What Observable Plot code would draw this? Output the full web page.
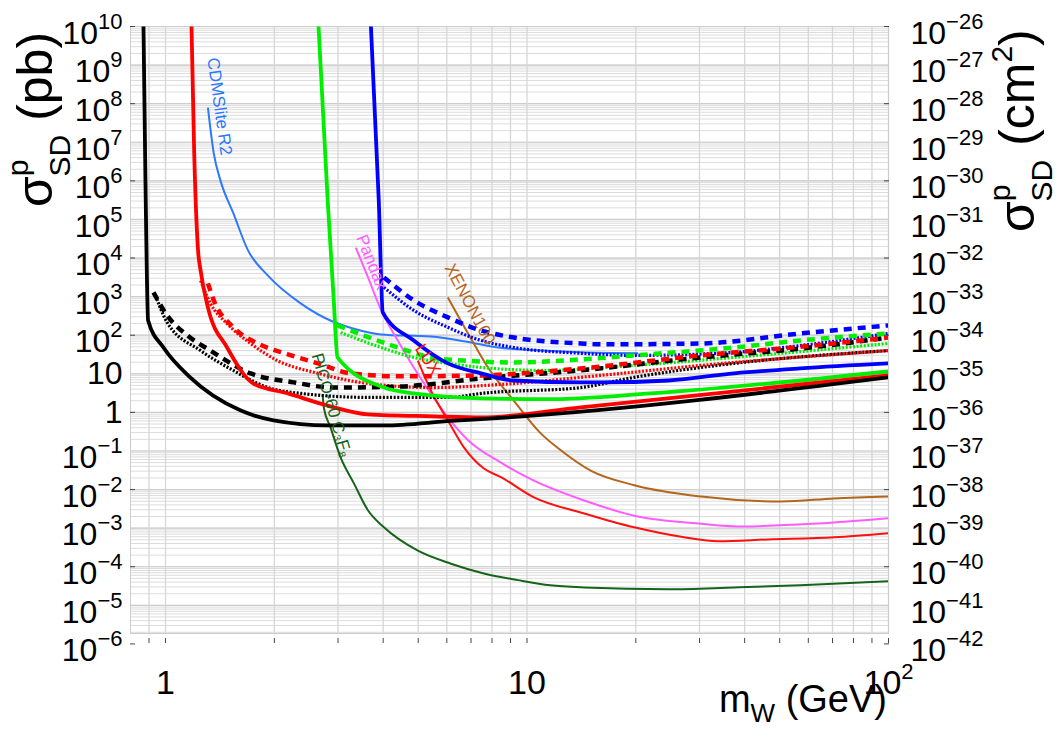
<!DOCTYPE html>
<html><head><meta charset="utf-8">
<script src="https://cdn.jsdelivr.net/npm/d3@7"></script>
<script src="https://cdn.jsdelivr.net/npm/@observablehq/plot@0.6"></script>
<style>
body{margin:0;background:#fff;}
svg{font-family:"Liberation Sans",Arial,Helvetica,sans-serif;}
</style>
</head><body><div id="chart"></div>
<script>
// ---- data: [mass GeV, sigma pb] ----
const blackSolid = [[0.869,1e10],[0.88,1e6],[0.895,240],[0.987,48],[1.17,8.1],[1.61,1.13],[1.99,0.62],[2.81,0.46],[4.02,0.46],[6.16,0.6],[8.47,0.72],[100,8.1]];
const redSolid = [[1.18,1e10],[1.2,6e6],[1.23,1.6e4],[1.25,4.8e3],[1.31,525],[1.48,48],[1.75,5.6],[2.18,3.1],[2.81,1.5],[3.63,0.89],[5.52,0.79],[7.46,0.74],[14.1,1.35],[100,9.1]];
const greenSolid = [[2.65,1e10],[2.81,3e5],[2.92,800],[2.99,26.6],[4.02,4.4],[4.86,3.1],[7.46,2.3],[11.4,2.2],[22,3.1],[100,11.5]];
const blueSolid = [[3.7,1e10],[3.89,3e5],[3.99,390],[4.86,73],[6.04,18.6],[7.46,10.3],[9.2,6.7],[14.1,6.0],[16,6.0],[24.6,6.7],[37.4,10.3],[57,13.8],[100,18.6]];
const blackDashed = [[0.926,1290],[1.01,326],[1.15,98],[1.33,40],[1.72,10.2],[2.26,6.0],[2.92,4.4],[4.48,4.7],[7.46,7.6],[14.1,12.3],[30.3,26.6],[57,45],[100,87]];
const blackDotted = [[0.938,1070],[1.01,215],[1.25,40],[1.54,12.2],[1.92,4.4],[2.37,3.1],[3.63,2.45],[6.16,2.45],[7.46,3.1],[14.1,4.4],[19.8,8.1],[37.4,18.6],[100,40]];
const redDashed = [[1.31,2200],[1.36,800],[1.54,160],[1.8,61],[2.18,32],[2.64,18.6],[3.25,10.3],[4.48,8.6],[7.46,9.1],[14.1,13.8],[30.3,30],[57,50],[100,87]];
const redDotted = [[1.25,2600],[1.33,670],[1.48,200],[1.72,61],[2.04,22],[2.64,10.3],[3.63,5.6],[5.52,4.4],[8.47,5.3],[16,9.1],[30.3,16.5],[100,40]];
const greenDashed = [[2.99,180],[3.54,98],[4.39,48],[5.42,26.6],[6.69,22],[9.2,19.7],[14.1,23.6],[19.8,30],[37.4,48],[57,73],[100,111]];
const greenDotted = [[3.05,118],[3.95,48],[4.86,26.6],[6.04,18.6],[7.46,14.6],[11.4,12.2],[19.8,16.5],[37.4,26.6],[100,61]];
const blueDashed = [[4.02,3150],[4.86,800],[6.04,290],[7.46,133],[9.2,87],[14.1,61],[16,58],[30.3,61],[57,111],[100,180]];
const blueDotted = [[4.02,1740],[4.86,440],[6.04,160],[7.46,73],[9.2,48],[14.1,34],[19.8,30],[37.4,36],[57,54],[100,111]];
const cdmslite = [[1.31,7.9e7],[1.36,5.1e6],[1.42,1.0e6],[1.54,1.45e5],[1.69,1.6e4],[1.92,3.5e3],[2.37,660],[2.92,220],[3.3,150],[3.95,105],[5.42,92],[6.69,70],[8.32,48],[11,40],[14.1,36],[20.3,34]];
const pandax = [[3.36,1.86e4],[3.63,3.2e3],[3.95,440],[4.39,73],[4.86,14.6],[5.42,3.1],[6.04,0.74],[6.87,0.19],[8.47,0.05],[10.45,0.017],[14.4,0.0052],[19.8,0.0021],[30.3,0.0013],[39.9,0.0011],[51.5,0.0012],[70.8,0.0014],[100,0.0018]];
const lux = [[4.99,22],[5.42,3.7],[6.04,0.62],[6.69,0.124],[7.6,0.035],[8.47,0.021],[10.45,0.0063],[14.4,0.0024],[19.8,0.00105],[27.2,5.8e-4],[33.8,4.6e-4],[46.5,5.1e-4],[70.8,5.8e-4],[100,7.4e-4]];
const xenon100 = [[6.04,955],[6.87,111],[7.8,14.6],[9.2,2.0],[10.9,0.29],[12.4,0.104],[15.0,0.031],[19.8,0.013],[30.3,0.0066],[50.6,0.0049],[70.8,0.0059],[100,0.0066]];
const pico60 = [[2.72,3],[2.74,1.35],[2.86,0.41],[3.05,0.068],[3.32,0.0145],[3.63,0.0029],[4.02,0.00105],[4.99,2.6e-4],[6.16,1.2e-4],[7.6,6.7e-5],[9.44,4.5e-5],[11.6,3.3e-5],[14.4,2.9e-5],[24.6,2.6e-5],[37.4,2.9e-5],[57,3.3e-5],[100,4.2e-5]];

// curve annotations
const labelNames = ["CDMSlite R2","Pandax","XENON100","LUX","PICO-60 C\u2083F\u2088"];
const labelMass = [1.41, 3.72, 6.95, 5.32, 2.88];
const labelSigma = [8.5e7, 7.8e3, 640, 23.4, 1.52];

// ticks
const xTickValues = [0.9,1,2,3,4,5,6,7,8,9,10,20,30,40,50,60,70,80,90,100];
const xMajorTicks = [1,10,100];
const xTickLabels = ["1","10","10^2"];
const yDecadeExps = [10,9,8,7,6,5,4,3,2,1,0,-1,-2,-3,-4,-5,-6];
const yLeftLabels = yDecadeExps.map(e => e === 0 ? "1" : e === 1 ? "10" : "10^" + String(e).replace("-", "\u2212"));
const yRightLabels = yDecadeExps.map(e => "10^" + String(e - 36).replace("-", "\u2212"));

// ---- styles ----
const DOT = "2,1.6", DASH = "8,6";
const styles = [
  {d: cdmslite, stroke: "#2c78ff", w: 2},
  {d: pandax, stroke: "#ff5cff", w: 2},
  {d: xenon100, stroke: "#b4651e", w: 2},
  {d: lux, stroke: "#ff1010", w: 2},
  {d: pico60, stroke: "#15641a", w: 2},
  {d: blackDotted, stroke: "#000", w: 3.2, dash: DOT},
  {d: redDotted, stroke: "#ff0000", w: 3.2, dash: DOT},
  {d: greenDotted, stroke: "#00ee00", w: 3.2, dash: DOT},
  {d: blueDotted, stroke: "#0000ff", w: 3.2, dash: DOT},
  {d: blackDashed, stroke: "#000", w: 4.5, dash: DASH},
  {d: redDashed, stroke: "#ff0000", w: 4.5, dash: DASH},
  {d: greenDashed, stroke: "#00ee00", w: 4.5, dash: DASH},
  {d: blueDashed, stroke: "#0000ff", w: 4.5, dash: DASH},
  {d: greenSolid, stroke: "#00ee00", w: 3.8},
  {d: blueSolid, stroke: "#0000ff", w: 3.8},
  {d: redSolid, stroke: "#ff0000", w: 3.8},
  {d: blackSolid, stroke: "#000", w: 3.8}
];
const labelColors = ["#2c78ff","#ff5cff","#b4651e","#ff1010","#15641a"];
const labelRotate = [82, 68, 62, 58, 74];

const yMin = Math.pow(10, -5.73), yMax = 1e10;
const yGrid = [];
for (let e = -6; e <= 9; e++) for (let m = 1; m <= 9; m++) { const v = m * Math.pow(10, e); if (v >= yMin) yGrid.push(v); }
yGrid.push(1e10);
const yMajor = yDecadeExps.map(e => Math.pow(10, e)).filter(v => v >= yMin);
const yEven = yDecadeExps.filter(e => e % 2 === 0).map(e => Math.pow(10, e));
const yAll = yDecadeExps.map(e => Math.pow(10, e));
const labelRows = labelNames.map((t, i) => ({t, x: labelMass[i], y: labelSigma[i], c: labelColors[i], r: labelRotate[i]}));

const lineMarks = styles.map(s => Plot.line(s.d, {x: d => d[0], y: d => d[1], stroke: s.stroke, strokeWidth: s.w, strokeDasharray: s.dash, strokeLinecap: "butt", clip: true, curve: "monotone-x", strokeLinejoin: "round"}));

const chart = Plot.plot({
  width: 1063, height: 734,
  marginLeft: 130, marginRight: 175, marginTop: 26, marginBottom: 101,
  style: {fontFamily: "Liberation Sans, Arial, sans-serif", background: "#fff", overflow: "visible"},
  x: {type: "log", domain: [0.8, 100], label: null},
  y: {type: "log", domain: [yMin, yMax], label: null},
  marks: [
    Plot.ruleY(yGrid, {stroke: "#dcdcdc", strokeWidth: 1}),
    Plot.ruleY(yMajor, {stroke: "#cdcdcd", strokeWidth: 1.2}),
    Plot.ruleX(xTickValues, {stroke: "#d6d6d6", strokeWidth: 1.3}),
    Plot.frame({stroke: "#cccccc"}),
    ...lineMarks,
    ...labelRows.map(r => Plot.text([r], {x: "x", y: "y", text: "t", fill: r.c, rotate: r.r, fontSize: 17})),
    Plot.axisX(xTickValues, {tickSize: 5, dy: 5, tickFormat: () => "", stroke: "#444", label: null}),
    Plot.axisX(xMajorTicks, {tickSize: 0, tickPadding: 36, fontSize: 34, tickFormat: d => xTickLabels[xMajorTicks.indexOf(d)], label: null, fill: "#000"}),
    Plot.axisY(yEven, {anchor: "left", tickSize: 5, dx: 5, tickFormat: () => "", stroke: "#444", label: null}),
    Plot.axisY(yEven, {anchor: "right", tickSize: 5, dx: -5, tickFormat: () => "", stroke: "#444", label: null}),
    Plot.axisY(yAll, {anchor: "left", tickSize: 0, tickPadding: 8, fontSize: 32, tickFormat: d => yLeftLabels[yAll.indexOf(d)], label: null, fill: "#000"}),
    Plot.axisY(yAll, {anchor: "right", tickSize: 0, tickPadding: 22, fontSize: 32, tickFormat: d => yRightLabels[yAll.indexOf(d)], label: null, fill: "#000"})
  ]
});
document.getElementById("chart").appendChild(chart);

// superscripts in tick labels
const NS = "http://www.w3.org/2000/svg";
chart.querySelectorAll("text").forEach(t => {
  const m = /^10\^(.+)$/.exec(t.textContent);
  if (!m) return;
  const g = t.closest("g[aria-label]");
  const isY = g && (g.getAttribute("aria-label") || "").startsWith("y-axis");
  t.textContent = "";
  const b = document.createElementNS(NS, "tspan");
  b.textContent = "10";
  if (isY) b.setAttribute("dy", "7");
  const s = document.createElementNS(NS, "tspan");
  s.setAttribute("dy", "-15");
  s.setAttribute("font-size", "22");
  s.textContent = m[1];
  t.append(b, s);
});

// axis titles
function addTitle(x, y, rotate, anchor, parts) {
  const t = document.createElementNS(NS, "text");
  t.setAttribute("transform", `translate(${x},${y}) rotate(${rotate})`);
  t.setAttribute("text-anchor", anchor);
  t.setAttribute("fill", "#000");
  parts.forEach(p => {
    const s = document.createElementNS(NS, "tspan");
    s.textContent = p.t;
    s.setAttribute("font-size", p.fs);
    if (p.dx) s.setAttribute("dx", p.dx);
    if (p.dy) s.setAttribute("dy", p.dy);
    t.appendChild(s);
  });
  chart.appendChild(t);
}
addTitle(52, 207, -90, "start", [
  {t: "\u03C3", fs: 50}, {t: "p", fs: 30, dy: -24}, {t: "SD", fs: 30, dx: -17, dy: 42}, {t: " (pb)", fs: 50, dy: -18}
]);
addTitle(1034, 232, -90, "start", [
  {t: "\u03C3", fs: 50}, {t: "p", fs: 30, dy: -24}, {t: "SD", fs: 30, dx: -17, dy: 42}, {t: " (cm", fs: 50, dy: -18}, {t: "2", fs: 30, dy: -22}, {t: ")", fs: 50, dy: 22}
]);
addTitle(887, 712, 0, "end", [
  {t: "m", fs: 38}, {t: "W", fs: 26, dy: 10}, {t: " (GeV)", fs: 38, dy: -10}
]);
</script>
</body></html>
